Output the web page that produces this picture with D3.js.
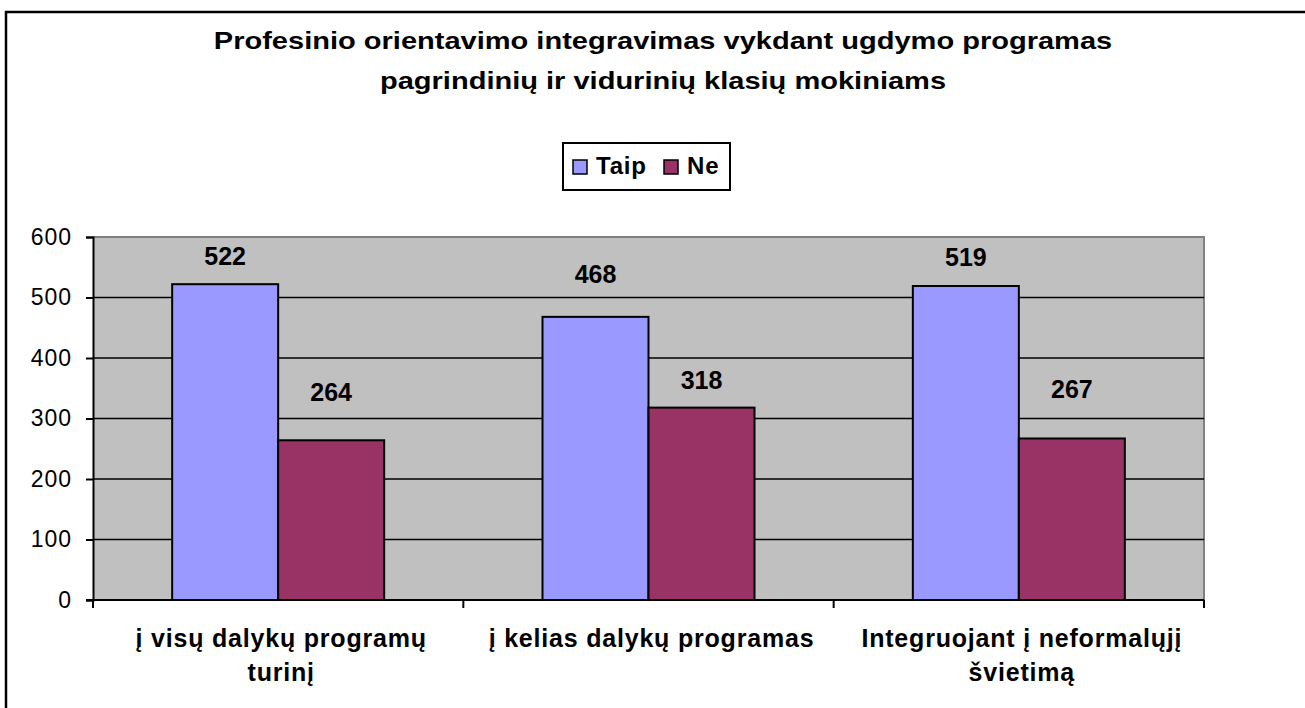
<!DOCTYPE html>
<html>
<head>
<meta charset="utf-8">
<script src="https://cdn.jsdelivr.net/npm/d3@7"></script>
<style>
  body { margin: 0; background: #fff; }
  svg { display: block; font-family: "Liberation Sans", Arial, sans-serif; }
</style>
</head>
<body>
<svg id="chart" width="1305" height="708"></svg>
<script>
// data
var categories = [
  ["į visų dalykų programų", "turinį"],
  ["į kelias dalykų programas"],
  ["Integruojant į neformalųjį", "švietimą"]
];
var seriesNames = ["Taip", "Ne"];
var taip = [522, 468, 519];
var ne = [264, 318, 267];
var yTicks = [0, 100, 200, 300, 400, 500, 600];
var titleLines = ["Profesinio orientavimo integravimas vykdant ugdymo programas",
                  "pagrindinių ir vidurinių klasių mokiniams"];

var colors = { "Taip": "#9999ff", "Ne": "#993366" };
// the value labels were nudged by hand in the original, px above bar top
var labelLift = [[19, 39], [34, 19], [20, 40]];

var svg = d3.select("#chart");

// outer chart border (runs off the right and bottom edge)
svg.append("rect")
    .attr("x", 6).attr("y", 12)
    .attr("width", 1320).attr("height", 720)
    .attr("fill", "none")
    .attr("stroke", "#000")
    .attr("stroke-width", 2.5);

var margin = { left: 93, right: 1204, top: 237, bottom: 600 };

var x0 = d3.scaleBand()
    .domain(d3.range(categories.length))
    .range([margin.left, margin.right]);

var x1 = d3.scaleBand()
    .domain(seriesNames)
    .range([0, 212]);

var y = d3.scaleLinear()
    .domain([0, 600])
    .range([margin.bottom, margin.top]);

// plot area
svg.append("rect")
    .attr("x", margin.left).attr("y", margin.top)
    .attr("width", margin.right - margin.left)
    .attr("height", margin.bottom - margin.top)
    .attr("fill", "#c0c0c0");
// gray top & right edges
svg.append("path")
    .attr("d", "M" + margin.left + "," + margin.top + "H" + margin.right + "V" + margin.bottom)
    .attr("fill", "none")
    .attr("stroke", "#808080")
    .attr("stroke-width", 2);

// gridlines
svg.append("g").selectAll("line")
    .data(yTicks.filter(function(d){ return d > 0 && d < 600; }))
    .enter().append("line")
    .attr("x1", margin.left).attr("x2", margin.right)
    .attr("y1", function(d){ return y(d); })
    .attr("y2", function(d){ return y(d); })
    .attr("stroke", "#000")
    .attr("stroke-width", 1.5);

// bars
var groups = svg.append("g").selectAll("g")
    .data(categories.map(function(c, i){ return { i: i, vals: [taip[i], ne[i]] }; }))
    .enter().append("g")
    .attr("transform", function(d){
      return "translate(" + (x0(d.i) + x0.bandwidth() / 2 - 106) + ",0)";
    });

function barData(d){
  return d.vals.map(function(v, k){ return { s: seriesNames[k], v: v, i: d.i, k: k }; });
}

groups.selectAll("rect")
    .data(barData)
    .enter().append("rect")
    .attr("x", function(d){ return x1(d.s); })
    .attr("y", function(d){ return y(d.v); })
    .attr("width", x1.bandwidth())
    .attr("height", function(d){ return y(0) - y(d.v); })
    .attr("fill", function(d){ return colors[d.s]; })
    .attr("stroke", "#000")
    .attr("stroke-width", 2);

groups.selectAll("text")
    .data(barData)
    .enter().append("text")
    .attr("x", function(d){ return x1(d.s) + x1.bandwidth() / 2; })
    .attr("y", function(d){ return y(d.v) - labelLift[d.i][d.k]; })
    .attr("text-anchor", "middle")
    .attr("font-size", 25)
    .attr("font-weight", "bold")
    .text(function(d){ return d.v; });

// y axis
var yAxis = svg.append("g")
    .attr("transform", "translate(" + margin.left + ",0)")
    .call(d3.axisLeft(y).tickValues(yTicks).tickSize(7).tickPadding(14));
yAxis.select(".domain").attr("stroke", "#000").attr("stroke-width", 2);
yAxis.selectAll(".tick line").attr("stroke-width", 2);
yAxis.selectAll("text")
    .attr("font-size", 23)
    .attr("letter-spacing", 1)
    .attr("font-family", "Liberation Sans, Arial, sans-serif")
    .attr("fill", "#000");

// x axis: ticks between categories
var xTickPos = d3.range(categories.length + 1).map(function(i){
  return margin.left + i * x0.step();
});
svg.append("line")
    .attr("x1", margin.left - 7).attr("x2", margin.right)
    .attr("y1", y(0)).attr("y2", y(0))
    .attr("stroke", "#000").attr("stroke-width", 2);
svg.append("g").selectAll("line")
    .data(xTickPos)
    .enter().append("line")
    .attr("x1", function(d){ return d; }).attr("x2", function(d){ return d; })
    .attr("y1", y(0)).attr("y2", y(0) + 8)
    .attr("stroke", "#000").attr("stroke-width", 2);

var xLabels = svg.append("g").selectAll("text")
    .data(categories)
    .enter().append("text")
    .attr("text-anchor", "middle")
    .attr("font-size", 25)
    .attr("font-weight", "bold")
    .attr("letter-spacing", 0.8);
xLabels.selectAll("tspan")
    .data(function(d, i){ return d.map(function(line){ return { line: line, i: i }; }); })
    .enter().append("tspan")
    .attr("x", function(d){ return x0(d.i) + x0.bandwidth() / 2 + 3; })
    .attr("y", function(d, k){ return 647 + k * 34; })
    .text(function(d){ return d.line; });

// title, stretched a little wider like the original
svg.append("g")
    .attr("transform", "translate(663,0) scale(1.21,1)")
  .selectAll("text")
    .data(titleLines)
    .enter().append("text")
    .attr("x", 0)
    .attr("y", function(d, i){ return 49 + i * 40; })
    .attr("text-anchor", "middle")
    .attr("font-size", 24)
    .attr("font-weight", "bold")
    .text(function(d){ return d; });

// legend
var legend = svg.append("g").attr("transform", "translate(563,143)");
legend.append("rect")
    .attr("width", 167).attr("height", 47)
    .attr("fill", "#fff")
    .attr("stroke", "#000")
    .attr("stroke-width", 2);
var legX = [10, 101];
var items = legend.selectAll("g.item")
    .data(seriesNames)
    .enter().append("g")
    .attr("class", "item")
    .attr("transform", function(d, i){ return "translate(" + legX[i] + ",0)"; });
items.append("rect")
    .attr("x", 0).attr("y", 17)
    .attr("width", 14).attr("height", 14)
    .attr("fill", function(d){ return colors[d]; })
    .attr("stroke", "#000")
    .attr("stroke-width", 1.5);
items.append("text")
    .attr("x", 23).attr("y", 31)
    .attr("font-size", 24)
    .attr("font-weight", "bold")
    .attr("letter-spacing", 0.8)
    .text(function(d){ return d; });
</script>
</body>
</html>
